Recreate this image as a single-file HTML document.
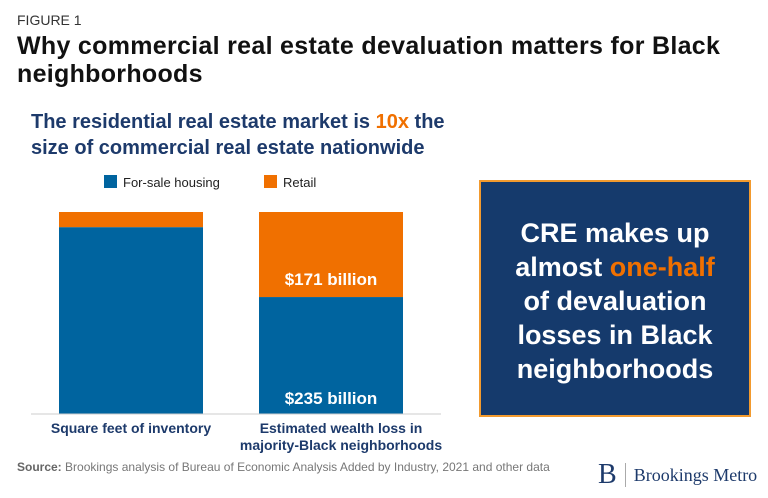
<!DOCTYPE html>
<html><head><meta charset="utf-8"><style>
body{margin:0;width:768px;height:498px;background:#fff;font-family:"Liberation Sans",sans-serif;position:relative;overflow:hidden}
.a{position:absolute}
</style></head><body>
<div class="a" style="left:17px;top:12px;font-size:14px;color:#333">FIGURE 1</div>
<div class="a" style="left:17px;top:32px;font-size:25px;font-weight:bold;color:#111;line-height:28px;width:750px;letter-spacing:0.3px">Why commercial real estate devaluation matters for Black neighborhoods</div>
<div class="a" style="left:31px;top:109px;font-size:20px;font-weight:bold;color:#1d3a6b;line-height:26px;width:440px">The residential real estate market is <span style="color:#f07000">10x</span> the size of commercial real estate nationwide</div>
<svg class="a" style="left:0;top:0" width="768" height="498">
<g id="legend"></g><g id="bars"></g>
<line x1="31" x2="441" y1="414" y2="414" stroke="#ccc"/>
</svg>
<div class="a" style="left:31px;top:420px;width:200px;text-align:center;font-size:14px;font-weight:bold;color:#1d3a6b">Square feet of inventory</div>
<div class="a" style="left:211px;top:420px;width:260px;text-align:center;font-size:14px;font-weight:bold;color:#1d3a6b;line-height:17px">Estimated wealth loss in<br>majority-Black neighborhoods</div>
<div class="a" style="left:479px;top:180px;width:268px;height:233px;background:#153a6c;border:2px solid #f29a2e;text-align:center;color:#fff;font-weight:bold;font-size:27px;line-height:34px;box-sizing:content-box"><div style="padding-top:34px">CRE makes up<br>almost <span style="color:#f07000">one-half</span><br>of devaluation<br>losses in Black<br>neighborhoods</div></div>
<div class="a" style="left:17px;top:460px;font-size:12px;color:#777"><b style="color:#666">Source:</b> Brookings analysis of Bureau of Economic Analysis Added by Industry, 2021 and other data</div>
<div class="a" style="left:598px;top:459px;font-family:'Liberation Serif',serif;color:#1d3a6b;display:flex;align-items:center"><span style="font-size:28px">B</span><span style="width:1px;height:24px;background:#aaa;margin:0 8px 0 8px"></span><span style="font-size:18px">Brookings Metro</span></div>
<script>
const categories=["Square feet of inventory","Estimated wealth loss"];
const housing=[92.5,57.9];
const retail=[7.5,42.1];
const housingLabels=["","$235 billion"];
const retailLabels=["","$171 billion"];
const NS="http://www.w3.org/2000/svg";
const base=414,h=202,xs=[59,259],bw=144;
const y=v=>v/100*h;
const g=document.getElementById('bars');
function mk(t,at){const e=document.createElementNS(NS,t);for(const k in at)e.setAttribute(k,at[k]);return e;}
categories.forEach((c,i)=>{
 const hh=y(housing[i]),rh=y(retail[i]);
 const r1=mk('rect',{x:xs[i],y:base-hh,width:bw,height:hh,fill:'#00649f'});
 
 
 g.appendChild(r1);
 const r2=mk('rect',{x:xs[i],y:base-hh-rh,width:bw,height:rh,fill:'#f07000'});
 
 
 g.appendChild(r2);
 if(housingLabels[i]){const t=mk('text',{x:xs[i]+bw/2,y:base-10,'text-anchor':'middle','font-size':17,'font-weight':'bold',fill:'#fff'});t.textContent=housingLabels[i];
 
 g.appendChild(t);}
 if(retailLabels[i]){const t=mk('text',{x:xs[i]+bw/2,y:base-hh-12,'text-anchor':'middle','font-size':17,'font-weight':'bold',fill:'#fff'});t.textContent=retailLabels[i];
 
 g.appendChild(t);}
});
const lg=document.getElementById('legend');
[["For-sale housing","#00649f",104],["Retail","#f07000",264]].forEach(([n,c,x])=>{
 const r=mk('rect',{x:x,y:175,width:13,height:13,fill:c});
 
 lg.appendChild(r);
 const t=mk('text',{x:x+19,y:187,'font-size':13,fill:'#222'});t.textContent=n;
 
 lg.appendChild(t);
});
</script>
</body></html>
